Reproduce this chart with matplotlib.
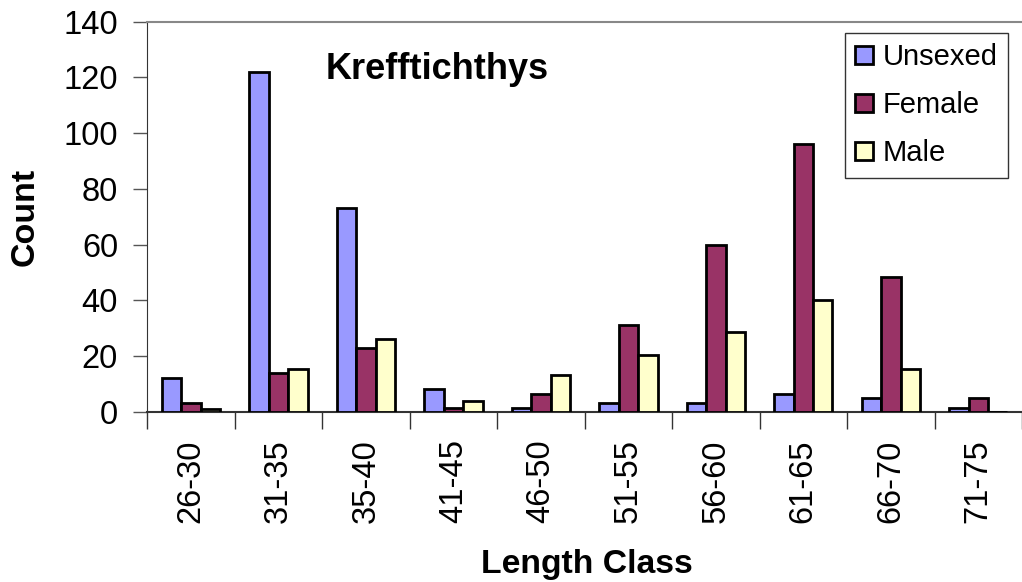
import numpy as np
import matplotlib
matplotlib.use("Agg")
import matplotlib.pyplot as plt

plt.rcParams['font.family'] = ['Liberation Sans', 'DejaVu Sans']

# data
classes = ["26-30", "31-35", "35-40", "41-45", "46-50",
           "51-55", "56-60", "61-65", "66-70", "71-75"]
unsexed = [12, 122, 73, 8, 1.5, 3, 3, 6.5, 5, 1.5]
female = [3, 14, 23, 1.5, 6.5, 31, 60, 96, 48.5, 5]
male = [1, 15.5, 26, 4, 13, 20.5, 28.5, 40, 15.5, 0]

series = [("Unsexed", unsexed, "#9999FF"),
          ("Female", female, "#993366"),
          ("Male", male, "#FFFFCC")]

fig = plt.figure(figsize=(10.22, 5.82), dpi=100)
ax = fig.add_axes([0.1441, 0.2926, 0.8559, 0.6701])

x = np.arange(len(classes))
w = 1 / 4.5
for i, (name, vals, col) in enumerate(series):
    ax.bar(x + (i - 1) * w, vals, w, color=col, edgecolor="black",
           linewidth=2, label=name, zorder=3)

ax.set_xlim(-0.5, len(classes) - 0.5)
ax.set_ylim(0, 140)
ax.set_yticks(range(0, 141, 20))
ax.tick_params(axis="y", labelsize=23.5, length=10, width=1, color="#555555", pad=11)

ax.set_xticks(x)
ax.set_xticklabels(classes, rotation=90, fontsize=23.5)
ax.tick_params(axis="x", which="major", length=0, pad=20)
ax.set_xticks(np.arange(-0.5, len(classes), 1), minor=True)
ax.tick_params(axis="x", which="minor", length=12, width=1, color="#333333")

ax.spines["right"].set_visible(False)
ax.spines["top"].set_color("#888888")
ax.spines["top"].set_linewidth(1.5)
ax.spines["left"].set_color("#333333")
ax.spines["bottom"].set_color("#333333")
ax.spines["bottom"].set_linewidth(1.5)

fig.text(0.3187, 0.8637, "Krefftichthys", fontsize=26, fontweight="bold",
         va="baseline", ha="left")
fig.text(25 / 1022, 1 - 217 / 582, "Count", fontsize=24.5, fontweight="bold",
         rotation=90, va="center", ha="center")
fig.text(587 / 1022, 1 - 573 / 582, "Length Class", fontsize=24.3,
         fontweight="bold", va="baseline", ha="center")

leg = ax.legend(loc="upper right", bbox_to_anchor=(0.9837, 0.971),
                fontsize=21, frameon=True, fancybox=False, edgecolor="black",
                handlelength=0.6, handleheight=0.6, handletextpad=0.34,
                labelspacing=0.69, borderpad=0.35, borderaxespad=0)
leg.get_frame().set_linewidth(1)
for h in leg.legend_handles:
    h.set_linewidth(2)

fig.savefig("out.png", dpi=100)
